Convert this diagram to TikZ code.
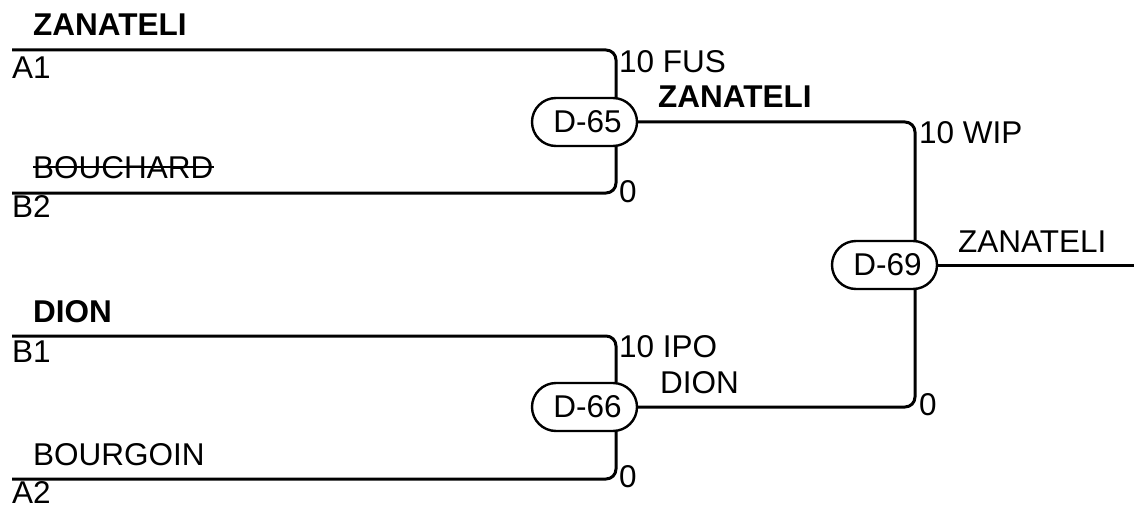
\documentclass[tikz,border=0pt]{standalone}
\usepackage{fontspec}
\setmainfont{Liberation Sans}
\usetikzlibrary{shapes.misc,backgrounds,calc}
\begin{document}
\begin{tikzpicture}[x=1pt,y=-1pt,
  every node/.style={font=\fontsize{31.5}{37}\selectfont},
  lbl/.style={anchor=base west,inner sep=0pt},
  blbl/.style={lbl,font=\fontsize{31.5}{37}\selectfont\bfseries},
  game/.style={draw,line width=2.4pt,fill=white,rounded rectangle,minimum width=105pt,minimum height=48pt,inner sep=0pt},
  conn/.style={line width=3pt,rounded corners=10pt}]
\useasboundingbox (0,0) rectangle (1134,508);
% games
\node[game] (d65) at (584.5,122) {\hspace*{6pt}D-65};
\node[game] (d66) at (584.5,407) {\hspace*{6pt}D-66};
\node[game] (d69) at (884.5,265) {\hspace*{6pt}D-69};
% bracket axes
\coordinate (v65) at (616,122);
\coordinate (v66) at (616,407);
\coordinate (v69) at (915,265);
\coordinate (s1) at (12,50);
\coordinate (s2) at (12,193);
\coordinate (s3) at (12,336);
\coordinate (s4) at (12,479);
\coordinate (out) at (1134,265);
\begin{pgfonlayer}{background}
\draw[conn] (s1) -- (s1 -| v65) -- (v65 |- d65.north);
\draw[conn] (s2) -- (s2 -| v65) -- (v65 |- d65.south);
\draw[conn] (s3) -- (s3 -| v66) -- (v66 |- d66.north);
\draw[conn] (s4) -- (s4 -| v66) -- (v66 |- d66.south);
\draw[conn] (d65.east) -- (d65.east -| v69) -- (v69 |- d69.north);
\draw[conn] (d66.east) -- (d66.east -| v69) -- (v69 |- d69.south);
\draw[line width=3pt] (d69.east) -- (out);
\end{pgfonlayer}
% left labels
\node[blbl] (n1) at (33,36) {ZANATELI};
\node[lbl] (p1) at (12,79) {A1};
\node[lbl] (n2) at (33,178) {BOUCHARD};
\draw[line width=2pt] ($(n2.base west)+(0,-11)$) -- ($(n2.base east)+(0,-11)$);
\node[lbl] (p2) at (12,217) {B2};
\node[blbl] (n3) at (33,322) {DION};
\node[lbl] (p3) at (12,362) {B1};
\node[lbl] (n4) at (33,465) {BOURGOIN};
\node[lbl] (p4) at (12,503) {A2};
% scores and winners
\node[lbl] (sc1) at (619,73) {10 FUS};
\node[lbl] (sc2) at (619,202) {0};
\node[blbl] (w65) at (658,107) {ZANATELI};
\node[lbl] (sc3) at (619,357) {10 IPO};
\node[lbl] (sc4) at (619,487) {0};
\node[lbl] (w66) at (660,393) {DION};
\node[lbl] (sc5) at (919,143) {10 WIP};
\node[lbl] (sc6) at (919,415) {0};
\node[lbl] (w69) at (958,252) {ZANATELI};
\end{tikzpicture}
\end{document}
